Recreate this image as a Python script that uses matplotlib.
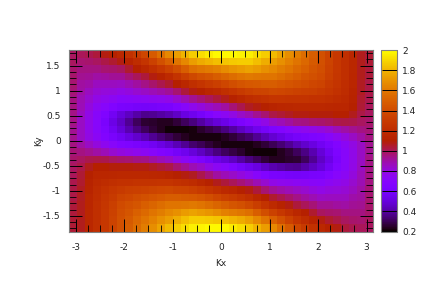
import numpy as np
import matplotlib
matplotlib.use('Agg')
from matplotlib import pyplot as plt
from matplotlib.colors import ListedColormap

# values, one list per Kx column (-3.14 -> 3.14), Ky = 1.8 first
col00 = [.99,.99,.98,.98,.97,.96,.95,.95,.94,.94,.93,.93,.95,.96,.98,.99,1.0,1.01,1.02,1.02,1.03,1.03,1.04,1.04]
col01 = [1.0,.97,.95,.93,.91,.90,.88,.87,.86,.85,.85,.85,.90,.95,.99,1.02,1.04,1.05,1.06,1.06,1.07,1.07,1.07,1.07]
col02 = [1.01,.98,.95,.92,.89,.86,.83,.80,.78,.77,.77,.79,.85,.93,1.01,1.07,1.11,1.13,1.14,1.15,1.15,1.16,1.16,1.16]
col03 = [1.03,.99,.95,.90,.86,.82,.78,.74,.71,.70,.71,.73,.80,.90,1.02,1.10,1.15,1.18,1.20,1.21,1.22,1.22,1.22,1.22]
col04 = [1.08,1.02,.97,.91,.86,.81,.76,.70,.65,.62,.64,.67,.75,.87,1.01,1.10,1.15,1.20,1.24,1.26,1.27,1.28,1.28,1.28]
col05 = [1.12,1.05,.98,.92,.86,.80,.74,.66,.57,.53,.56,.61,.71,.83,.99,1.09,1.16,1.22,1.27,1.30,1.33,1.34,1.35,1.35]
col06 = [1.17,1.08,.99,.92,.85,.78,.71,.62,.50,.46,.49,.56,.66,.80,.98,1.09,1.17,1.24,1.30,1.35,1.39,1.41,1.42,1.42]
col07 = [1.24,1.14,1.05,.96,.88,.80,.72,.61,.45,.38,.42,.51,.64,.78,.97,1.09,1.17,1.24,1.32,1.37,1.42,1.45,1.47,1.48]
col08 = [1.30,1.20,1.10,1.0,.91,.83,.73,.60,.41,.31,.36,.47,.62,.76,.95,1.08,1.17,1.25,1.33,1.40,1.45,1.50,1.53,1.55]
col09 = [1.37,1.26,1.16,1.03,.94,.85,.74,.59,.37,.26,.31,.43,.60,.74,.94,1.08,1.17,1.25,1.34,1.42,1.49,1.54,1.58,1.62]
col10 = [1.47,1.34,1.22,1.08,.98,.87,.75,.60,.38,.25,.27,.38,.56,.71,.91,1.06,1.16,1.25,1.36,1.44,1.52,1.58,1.63,1.68]
col11 = [1.56,1.42,1.28,1.13,1.01,.89,.76,.61,.40,.24,.24,.34,.52,.67,.87,1.04,1.15,1.26,1.37,1.46,1.55,1.62,1.69,1.75]
col12 = [1.66,1.50,1.34,1.19,1.05,.92,.78,.62,.42,.24,.21,.30,.48,.64,.84,1.02,1.14,1.26,1.38,1.48,1.58,1.66,1.73,1.82]
col13 = [1.73,1.58,1.41,1.25,1.10,.97,.83,.66,.46,.27,.21,.27,.43,.59,.78,.97,1.11,1.24,1.36,1.48,1.58,1.69,1.78,1.87]
col14 = [1.80,1.66,1.49,1.32,1.16,1.03,.88,.71,.51,.31,.21,.24,.38,.55,.73,.93,1.08,1.22,1.35,1.47,1.59,1.72,1.83,1.91]
col15 = [1.87,1.73,1.56,1.38,1.22,1.08,.93,.76,.55,.35,.22,.22,.33,.50,.68,.88,1.06,1.20,1.33,1.46,1.60,1.74,1.87,1.96]
col16 = [1.91,1.77,1.59,1.42,1.26,1.11,.96,.80,.60,.40,.25,.22,.30,.45,.63,.84,1.01,1.16,1.30,1.44,1.58,1.72,1.87,1.97]
col17 = [1.95,1.80,1.61,1.45,1.30,1.15,1.0,.84,.65,.45,.28,.22,.27,.40,.58,.79,.96,1.12,1.26,1.41,1.55,1.70,1.86,1.98]
col18 = [1.98,1.83,1.63,1.48,1.33,1.18,1.03,.87,.70,.49,.31,.22,.24,.35,.53,.74,.91,1.07,1.22,1.37,1.52,1.67,1.85,1.98]
col19 = [1.98,1.85,1.67,1.52,1.37,1.22,1.07,.91,.74,.53,.35,.24,.22,.31,.49,.70,.87,1.03,1.18,1.33,1.48,1.63,1.83,1.98]
col20 = [1.98,1.86,1.70,1.55,1.41,1.26,1.12,.96,.79,.58,.40,.27,.22,.28,.45,.65,.84,1.0,1.15,1.30,1.45,1.61,1.80,1.95]
col21 = [1.97,1.87,1.72,1.58,1.44,1.30,1.16,1.01,.84,.63,.45,.30,.22,.25,.40,.60,.80,.96,1.11,1.26,1.42,1.59,1.77,1.91]
col22 = [1.96,1.87,1.74,1.60,1.46,1.33,1.20,1.06,.88,.68,.50,.33,.22,.22,.35,.55,.76,.93,1.08,1.22,1.38,1.56,1.73,1.87]
col23 = [1.91,1.83,1.72,1.59,1.47,1.35,1.22,1.08,.93,.73,.55,.38,.24,.21,.31,.51,.71,.88,1.03,1.16,1.32,1.49,1.66,1.80]
col24 = [1.87,1.78,1.69,1.58,1.48,1.36,1.24,1.11,.97,.78,.59,.43,.27,.21,.27,.46,.66,.83,.97,1.10,1.25,1.41,1.58,1.73]
col25 = [1.82,1.73,1.66,1.58,1.48,1.38,1.26,1.14,1.02,.84,.64,.48,.30,.21,.24,.42,.62,.78,.92,1.05,1.19,1.34,1.50,1.66]
col26 = [1.75,1.69,1.62,1.55,1.46,1.37,1.26,1.15,1.04,.87,.67,.52,.34,.24,.24,.40,.61,.76,.89,1.01,1.13,1.28,1.42,1.56]
col27 = [1.68,1.63,1.58,1.52,1.44,1.36,1.25,1.16,1.06,.91,.71,.56,.38,.27,.25,.38,.60,.75,.87,.98,1.08,1.22,1.34,1.47]
col28 = [1.62,1.58,1.54,1.49,1.42,1.34,1.25,1.17,1.08,.94,.74,.60,.43,.31,.26,.37,.59,.74,.85,.94,1.03,1.16,1.26,1.37]
col29 = [1.55,1.53,1.50,1.45,1.40,1.33,1.25,1.17,1.08,.95,.76,.62,.47,.36,.31,.41,.60,.73,.83,.91,1.0,1.10,1.20,1.30]
col30 = [1.48,1.47,1.45,1.42,1.37,1.32,1.24,1.17,1.09,.97,.78,.64,.51,.42,.38,.45,.61,.72,.80,.88,.96,1.05,1.14,1.24]
col31 = [1.42,1.42,1.41,1.39,1.35,1.30,1.24,1.17,1.09,.98,.80,.66,.56,.49,.46,.50,.62,.71,.78,.85,.92,.99,1.08,1.17]
col32 = [1.35,1.35,1.34,1.33,1.30,1.27,1.22,1.16,1.09,.99,.83,.71,.61,.56,.53,.57,.66,.74,.80,.86,.92,.98,1.05,1.12]
col33 = [1.28,1.28,1.28,1.27,1.26,1.24,1.20,1.15,1.10,1.01,.87,.75,.67,.64,.62,.65,.70,.76,.81,.86,.91,.97,1.02,1.08]
col34 = [1.22,1.22,1.22,1.22,1.21,1.20,1.18,1.15,1.10,1.02,.90,.80,.73,.71,.70,.71,.74,.78,.82,.86,.90,.95,.99,1.03]
col35 = [1.16,1.16,1.16,1.15,1.15,1.14,1.13,1.11,1.07,1.01,.93,.85,.79,.77,.77,.78,.80,.83,.86,.89,.92,.95,.98,1.01]
col36 = [1.07,1.07,1.07,1.07,1.06,1.06,1.05,1.04,1.02,.99,.95,.90,.85,.85,.85,.86,.87,.88,.90,.91,.93,.95,.97,1.0]
col37 = [1.04,1.04,1.03,1.03,1.02,1.02,1.01,1.0,.99,.98,.96,.95,.93,.93,.94,.94,.95,.95,.96,.97,.98,.98,.99,.99]
cols = [col00,col01,col02,col03,col04,col05,col06,col07,col08,col09,col10,col11,col12,
		col13,col14,col15,col16,col17,col18,col19,col20,col21,col22,col23,col24,col25,
		col26,col27,col28,col29,col30,col31,col32,col33,col34,col35,col36,col37]

xticks = [-3,-2,-1,0,1,2,3]
yticks = [-1.5,-1,-0.5,0,0.5,1,1.5]
cticks = [0.2,0.4,0.6,0.8,1,1.2,1.4,1.6,1.8,2]
xmax = 3.14
ymax = 1.81

# gnuplot default pm3d palette (rgbformulae 7,5,15)
t = np.linspace(0,1,256)
pal = np.zeros((256,3))
pal[:,0] = np.sqrt(t)
pal[:,1] = t**3
pal[:,2] = np.clip(np.sin(2*np.pi*t),0,1)
cmap = ListedColormap(pal)

plt.rcParams['font.family'] = 'DejaVu Sans'
plt.rcParams['font.size'] = 6.5
W,H = 442.0,292.0
fig = plt.figure(figsize=(W/100,H/100),dpi=100)
ax = fig.add_axes([69/W,1-231.5/H,304.3/W,181.5/H])
cax = fig.add_axes([381/W,1-231.5/H,15.5/W,181.5/H])

z = np.array(cols).T
xe = np.linspace(-xmax,xmax,z.shape[1]+1)
ye = np.linspace(ymax,-ymax,z.shape[0]+1)
m = ax.pcolormesh(xe,ye,z,cmap=cmap,vmin=0.2,vmax=2,shading='flat',linewidth=0,rasterized=True)
ax.set_xlim(-xmax,xmax)
ax.set_ylim(-ymax,ymax)

# ----- ticks on all four sides ----- #
ax.set_xticks(xticks)
ax.set_yticks(yticks)
ax.set_xticklabels(['%g' %v for v in xticks])
ax.set_yticklabels(['%g' %v for v in yticks])
ax.set_xticks(np.arange(-3,3.01,0.25),minor=True)
ax.set_yticks(np.arange(-1.75,1.76,0.125),minor=True)
ax.tick_params(which='major',direction='in',length=9.5,width=0.7,top=True,right=True,color='black',labelcolor='#222222')
ax.tick_params(which='major',axis='x',pad=8.5)
ax.tick_params(which='major',axis='y',pad=6)
ax.tick_params(which='minor',direction='in',length=4.7,width=0.6,top=True,right=True,color='black')
for s in ax.spines.values():
	s.set_color('#808080')
	s.set_linewidth(0.8)
ax.set_xlabel('Kx',color='#222222',labelpad=5)
ax.set_ylabel('Ky',color='#222222',labelpad=0)

cb = fig.colorbar(m,cax=cax,ticks=cticks)
cb.ax.set_yticklabels(['%g' %v for v in cticks])
cb.ax.tick_params(direction='in',length=11,width=0.7,color='black',labelcolor='#222222',pad=4)
cb.minorticks_off()
cb.outline.set_edgecolor('#808080')
cb.outline.set_linewidth(0.8)

fig.savefig('out.png',dpi=100)
